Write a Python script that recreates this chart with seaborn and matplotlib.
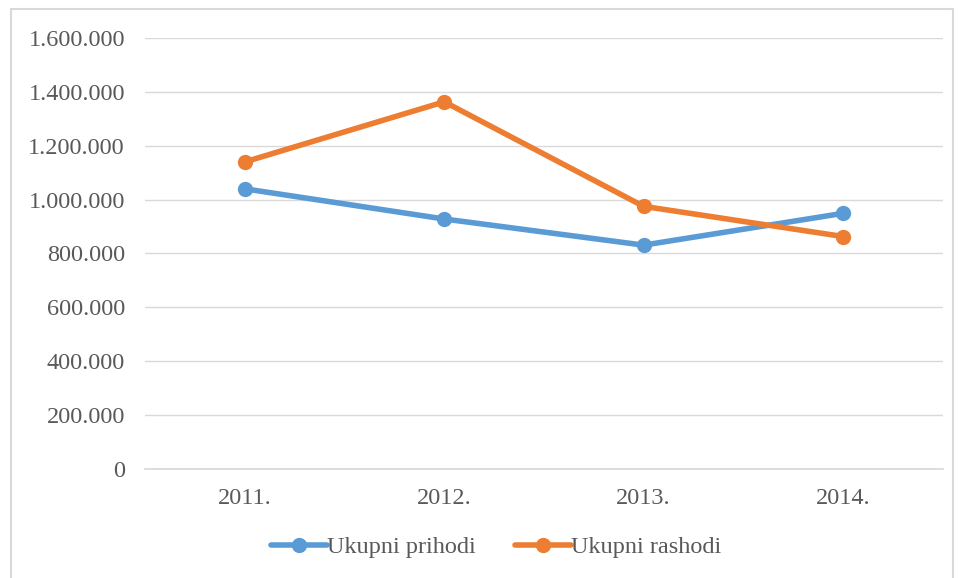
import pandas as pd
import matplotlib.pyplot as plt
import matplotlib.ticker as mticker
from matplotlib.patches import Rectangle
import seaborn as sns

# Data
years = ['2011.', '2012.', '2013.', '2014.']
prihodi = [1040000, 928000, 831000, 949000]
rashodi = [1140000, 1363000, 975000, 863000]
series_names = ['Ukupni prihodi', 'Ukupni rashodi']
colors = ['#5B9BD5', '#ED7D31']

df = pd.DataFrame({
    'Godina': years * 2,
    'Iznos': prihodi + rashodi,
    'Serija': [series_names[0]] * len(years) + [series_names[1]] * len(years),
})

sns.set_theme(style='white')
plt.rcParams['font.family'] = ['Liberation Serif', 'DejaVu Serif']
text_color = '#595959'
fs = 17.5

fig = plt.figure(figsize=(9.61, 5.78), dpi=100)
ax = fig.add_axes([0.151, 0.1886, 0.830, 0.7457])

sns.lineplot(data=df, x='Godina', y='Iznos', hue='Serija', palette=colors,
             marker='o', markersize=11, markeredgewidth=0, linewidth=4,
             sort=False, ax=ax)

ax.set_xlim(-0.5, 3.5)
ax.set_ylim(0, 1600000)
ax.yaxis.set_major_locator(mticker.MultipleLocator(200000))
ax.yaxis.set_major_formatter(mticker.FuncFormatter(
    lambda v, p: '{:,.0f}'.format(v).replace(',', '.')))
ax.grid(axis='y', color='#D9D9D9', linewidth=1)
ax.set_axisbelow(True)
for s in ['top', 'right', 'left']:
    ax.spines[s].set_visible(False)
ax.spines['bottom'].set_color('#D9D9D9')
ax.tick_params(axis='both', length=0, labelsize=fs, labelcolor=text_color)
ax.tick_params(axis='y', pad=14.5)
ax.tick_params(axis='x', pad=14)
ax.set_xlabel('')
ax.set_ylabel('')

ax.legend(loc='upper center', bbox_to_anchor=(0.44, -0.105), ncol=2, frameon=False,
          fontsize=fs, labelcolor=text_color, handlelength=2.3, handletextpad=0.0,
          columnspacing=1.6)

# light border around the chart area
fig.patches.append(Rectangle((11 / 961, -0.05), 942 / 961, 1.05 - 9 / 578,
                             transform=fig.transFigure, fill=False,
                             edgecolor='#D9D9D9', linewidth=1.5))

fig.savefig('out.png', dpi=100, facecolor='white')
